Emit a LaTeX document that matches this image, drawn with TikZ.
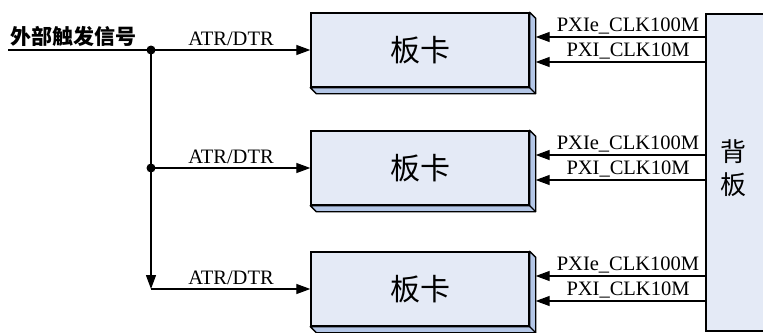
\documentclass[tikz,border=0pt]{standalone}
\usepackage{fontspec}
\setmainfont{Liberation Serif}
\newfontfamily\cjk{Noto Sans CJK SC}
\usetikzlibrary{arrows.meta}
\definecolor{frontc}{HTML}{E4EAF6}
\definecolor{sidec}{HTML}{B4C7E7}
\tikzset{
  card/.style={draw=black, line width=1.4pt, fill=frontc, minimum width=218pt, minimum height=74pt, inner sep=0pt, font=\cjk\fontsize{30}{30}\selectfont},
  sig/.style={line width=1.3pt, -{Triangle[length=14pt,width=10pt]}},
  wire/.style={line width=1.3pt},
  lab/.style={inner sep=0pt, anchor=base, font=\fontsize{20.5}{20.5}\selectfont},
  dot/.style={circle, fill=black, inner sep=0pt, minimum size=9pt},
}
\newcommand{\extr}[1]{%
  \filldraw[fill=sidec, draw=black, line width=1.4pt, line join=round]
    (#1.north east) -- ++(6pt,-6pt) -- ([xshift=6pt,yshift=-6pt]#1.south east)
    -- ([xshift=6pt,yshift=-6pt]#1.south west) -- (#1.south west) -- (#1.south east) -- cycle;
  \draw[line width=1.4pt] (#1.south east) -- ++(6pt,-6pt);
}
\begin{document}
\begin{tikzpicture}[x=1pt,y=-1pt]
\clip (0,0) rectangle (763,332);
\fill[white] (0,0) rectangle (763,332);

% backplane
\fill[frontc] (706,14) rectangle (770,331);
\draw[line width=1.4pt] (770,14) -- (706,14) -- (706,331) -- (770,331);
\node[inner sep=0pt, align=center, font=\cjk\fontsize{26}{33}\selectfont] (bp) at (733,168) {背\\板};
\coordinate (bpw) at (706,168);

% cards
\node[card] (b1) at (420,50) {板卡};
\node[card] (b2) at (420,168) {板卡};
\node[card] (b3) at (420,289) {板卡};
\extr{b1}\extr{b2}\extr{b3}
\node[card] at (b1) {板卡};
\node[card] at (b2) {板卡};
\node[card] at (b3) {板卡};

% input side
\coordinate (in) at (8,50);
\coordinate (j1) at (151,50);
\coordinate (j2) at (151,168);
\coordinate (j3) at (151,289);
\node[inner sep=0pt, font=\cjk\bfseries\fontsize{21}{21}\selectfont] (ext) at (73,36.5) {外部触发信号};
\draw[sig] (in) -- (b1.west);
\draw[sig] (j1) -- (j3);
\draw[sig] (j2) -- (b2.west);
\draw[sig] (j3) -- (b3.west);
\node[dot] (d1) at (j1) {};
\node[dot] (d2) at (j2) {};
\node[lab] (l1) at (231,45) {ATR/DTR};
\node[lab] (l2) at (231,163) {ATR/DTR};
\node[lab] (l3) at (231,284) {ATR/DTR};

% clock lines
\foreach \b/\y in {b1/50, b2/168, b3/289}{
  \coordinate (\b a) at (706,\y-13);
  \coordinate (\b b) at (706,\y+12);
  \draw[sig] (\b a) -- ([xshift=6pt,yshift=13pt]\b.east);
  \draw[sig] (\b b) -- ([xshift=6pt,yshift=-12pt]\b.east);
  \node[lab] at (628,\y-19) {PXIe\_CLK100M};
  \node[lab] at (628,\y+6) {PXI\_CLK10M};
}
\end{tikzpicture}
\end{document}
